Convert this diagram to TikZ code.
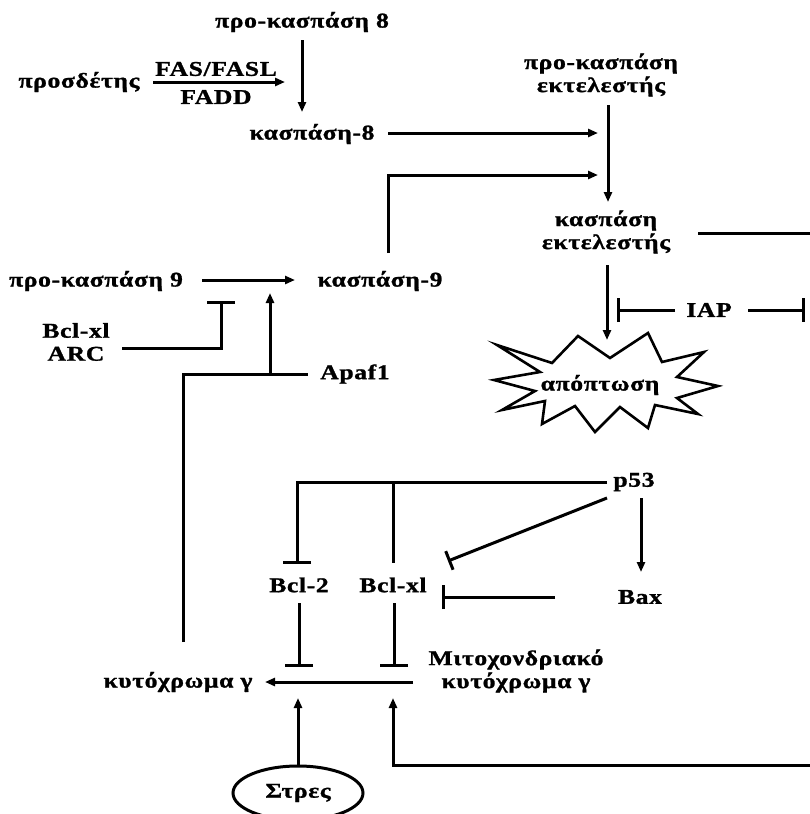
\documentclass[tikz,border=0pt]{standalone}
\usepackage{fontspec}
\newfontfamily\dfont[FakeStretch=1.22,LetterSpace=3,BoldFeatures={FakeBold=1.2}]{Liberation Serif}
\usetikzlibrary{arrows.meta,shapes.geometric}
\begin{document}
\begin{tikzpicture}[x=1pt,y=-1pt,line width=3pt,
  lbl/.style={font=\dfont\bfseries\fontsize{21}{23}\selectfont,inner sep=0pt,align=center},
  act/.style={-{Triangle[length=10pt,width=8pt]}},
  inh/.style={-{Bar[width=24pt]}},
  inhs/.style={-{Bar[width=20pt]}}]
\useasboundingbox (0,0) rectangle (810,814);
\fill[white] (0,0) rectangle (810,814);
% text nodes
\node[lbl] (pk8) at (302,22) {προ-κασπάση 8};
\node[lbl] (prosd) at (79,82) {προσδέτης};
\node[lbl] (fas) at (216,69) {FAS/FASL};
\node[lbl] (fadd) at (216,97) {FADD};
\node[lbl] (k8) at (312,134) {κασπάση-8};
\node[lbl] (pke) at (601,75) {προ-κασπάση\\εκτελεστής};
\node[lbl] (ke) at (606,232) {κασπάση\\εκτελεστής};
\node[lbl] (pk9) at (96,281) {προ-κασπάση 9};
\node[lbl] (k9) at (380,281) {κασπάση-9};
\node[lbl] (arc) at (76,342) {Bcl-xl\\ARC};
\node[lbl] (apaf) at (355,374) {Apaf1};
\node[lbl] (iap) at (709,310) {IAP};
\node[lbl] (p53) at (634,482) {p53};
\node[lbl] (bcl2) at (299,585) {Bcl-2};
\node[lbl] (bclxl) at (393,585) {Bcl-xl};
\node[lbl] (bax) at (640,597) {Bax};
\node[lbl] (cyt) at (178,682) {κυτόχρωμα γ};
\node[lbl] (mito) at (516,671) {Μιτοχονδριακό\\κυτόχρωμα γ};
\node[lbl,draw,ellipse,minimum width=130pt,minimum height=54pt] (stres) at (298,793) {Στρες};
% apoptosis starburst
\draw[line width=2.6pt,line join=miter]
  (497,345) -- (552,363) -- (578,336) -- (610,358) -- (648,333) -- (662,362)
  -- (704,352) -- (677,377) -- (718,386) -- (677,398) -- (698,414) -- (655,405)
  -- (648,428) -- (620,407) -- (595,432) -- (575,406) -- (542,424) -- (545,401)
  -- (502,410) -- (535,391) -- (494,380) -- (540,372) -- cycle;
\node[lbl] (apop) at (600,385) {απόπτωση};
% coordinates
\coordinate (a1s) at (153,82);  \coordinate (a1e) at (285,82);
\coordinate (a2s) at (302,40);  \coordinate (a2e) at (302,112);
\coordinate (a3s) at (388,133); \coordinate (a3e) at (598,133);
\coordinate (a4s) at (388,253); \coordinate (a4m) at (388,175); \coordinate (a4e) at (598,175);
\coordinate (a5s) at (608,105); \coordinate (a5e) at (608,202);
\coordinate (a6s) at (698,233); \coordinate (a6e) at (810,233);
\coordinate (a7s) at (607,265); \coordinate (a7e) at (607,340);
\coordinate (i1s) at (675,310); \coordinate (i1e) at (617,310);
\coordinate (i2s) at (748,310); \coordinate (i2e) at (805,310);
\coordinate (a9s) at (202,280); \coordinate (a9e) at (295,280);
\coordinate (i3s) at (122,348); \coordinate (i3m) at (221,348); \coordinate (i3e) at (221,301);
\coordinate (c1s) at (183,642); \coordinate (c1m) at (183,374); \coordinate (c1e) at (308,374);
\coordinate (c2s) at (270,374); \coordinate (c2e) at (270,293);
\coordinate (p1s) at (607,482); \coordinate (p1m) at (297,482); \coordinate (p1e) at (297,564);
\coordinate (p2s) at (393,482); \coordinate (p2e) at (393,563);
\coordinate (p3s) at (607,498); \coordinate (p3e) at (448,561);
\coordinate (p4s) at (641,498); \coordinate (p4e) at (641,572);
\coordinate (p5s) at (555,597); \coordinate (p5e) at (442,597);
\coordinate (b1s) at (299,603); \coordinate (b1e) at (299,667);
\coordinate (b2s) at (394,603); \coordinate (b2e) at (394,667);
\coordinate (m1s) at (413,682); \coordinate (m1e) at (265,682);
\coordinate (s1e) at (298,698);
\coordinate (f1s) at (810,765); \coordinate (f1m) at (393,765); \coordinate (f1e) at (393,698);
% connectors
\draw[act] (a1s) -- (a1e);
\draw[act] (a2s) -- (a2e);
\draw[act] (a3s) -- (a3e);
\draw[act] (a4s) -- (a4m) -- (a4e);
\draw[act] (a5s) -- (a5e);
\draw (a6s) -- (a6e);
\draw[act] (a7s) -- (a7e);
\draw[inh] (i1s) -- (i1e);
\draw[inh] (i2s) -- (i2e);
\draw[act] (a9s) -- (a9e);
\draw[-{Bar[width=28pt]}] (i3s) -- (i3m) -- (i3e);
\draw (c1s) -- (c1m) -- (c1e);
\draw[act] (c2s) -- (c2e);
\draw[-{Bar[width=28pt]}] (p1s) -- (p1m) -- (p1e);
\draw (p2s) -- (p2e);
\draw[inhs] (p3s) -- (p3e);
\draw[act] (p4s) -- (p4e);
\draw[inh] (p5s) -- (p5e);
\draw[-{Bar[width=28pt]}] (b1s) -- (b1e);
\draw[-{Bar[width=28pt]}] (b2s) -- (b2e);
\draw[act] (m1s) -- (m1e);
\draw[act] (stres.north) -- (s1e);
\draw[act] (f1s) -- (f1m) -- (f1e);
\end{tikzpicture}
\end{document}
